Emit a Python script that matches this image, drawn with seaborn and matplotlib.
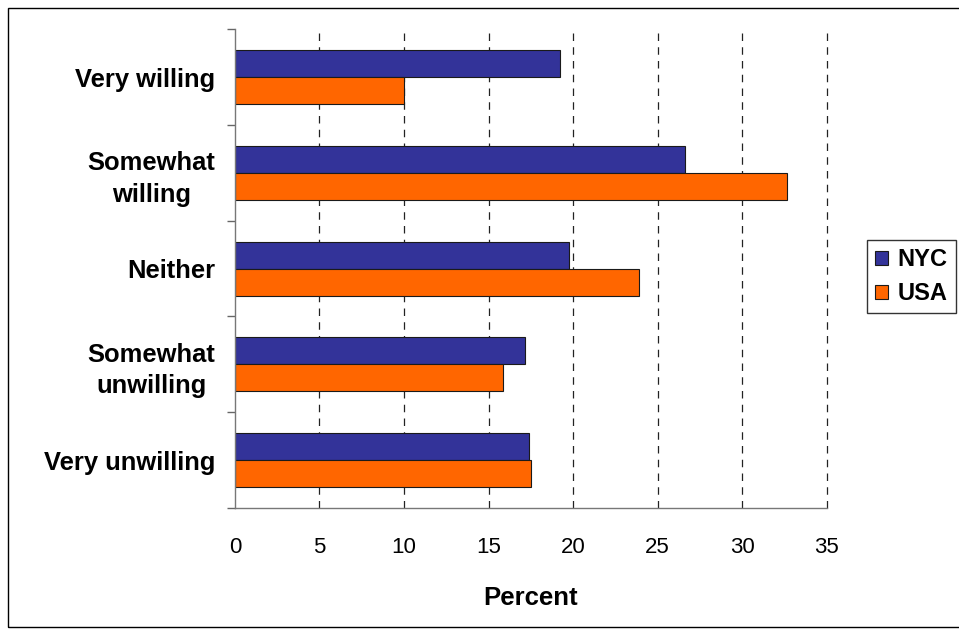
import matplotlib
matplotlib.use("Agg")
import matplotlib.pyplot as plt
import seaborn as sns
import pandas as pd
from matplotlib.patches import Rectangle
from matplotlib.ticker import FixedLocator

# 数据
categories = ['Very willing', 'Somewhat\nwilling', 'Neither',
              'Somewhat\nunwilling', 'Very unwilling']
nyc = [19.2, 26.6, 19.75, 17.15, 17.4]
usa = [10.0, 32.65, 23.9, 15.85, 17.5]
series = ['NYC', 'USA']
colors = {'NYC': '#333399', 'USA': '#FF6600'}

df = pd.DataFrame({
    'category': categories * 2,
    'value': nyc + usa,
    'group': ['NYC'] * len(categories) + ['USA'] * len(categories),
})

sns.set_style('white')
plt.rcParams['font.family'] = ['Liberation Sans', 'DejaVu Sans']
plt.rcParams['text.color'] = 'black'
plt.rcParams['axes.labelcolor'] = 'black'
plt.rcParams['xtick.color'] = '#666666'
plt.rcParams['ytick.color'] = '#666666'
plt.rcParams['xtick.labelcolor'] = 'black'
plt.rcParams['ytick.labelcolor'] = 'black'

fig = plt.figure(figsize=(9.59, 6.35), dpi=100)
ax = fig.add_axes([0.245, 0.2, 0.617, 0.754])

sns.barplot(data=df, y='category', x='value', hue='group', orient='h',
            palette=colors, hue_order=series, width=0.565, saturation=1,
            edgecolor='#1a1a1a', linewidth=0.8, ax=ax, errorbar=None)

ax.set_xlim(0, 35)
ax.set_ylim(len(categories) - 0.5, -0.5)
ax.set_xticks(range(0, 36, 5))
ax.tick_params(axis='x', labelsize=16, length=6, width=1,
               direction='out', pad=15)
for x in range(5, 36, 5):
    ax.axvline(x, color='#222222', linestyle=(0, (6, 5)), linewidth=0.9,
               zorder=0, clip_on=False)

# y 轴刻度放在类别之间
ax.yaxis.set_minor_locator(FixedLocator([i - 0.5 for i in range(len(categories) + 1)]))
ax.tick_params(axis='y', which='major', length=0, pad=14)
ax.tick_params(axis='y', which='minor', length=6, width=1,
               direction='out', left=True)
for lbl in ax.get_yticklabels():
    lbl.set_fontweight('bold')
    lbl.set_fontsize(18.4)
    lbl.set_horizontalalignment('right')
    lbl.set_multialignment('center')
    lbl.set_linespacing(1.4)

ax.set_ylabel('')
ax.set_xlabel('Percent', fontsize=18.5, fontweight='bold', labelpad=20)

for s in ['top', 'right']:
    ax.spines[s].set_visible(False)
for s in ['left', 'bottom']:
    ax.spines[s].set_color('#777777')
    ax.spines[s].set_linewidth(1)

leg = ax.legend(loc='center left', bbox_to_anchor=(1.0676, 0.483), frameon=True,
                fancybox=False, edgecolor='black', borderaxespad=0,
                prop={'weight': 'bold', 'size': 17},
                handlelength=0.55, handleheight=0.55, handletextpad=0.4,
                labelspacing=0.45, borderpad=0.35)
leg.get_frame().set_linewidth(1)
for h in leg.legend_handles:
    h.set_edgecolor('#1a1a1a')
    h.set_linewidth(0.8)

# 外框
fig.patches.append(Rectangle((8 / 959, 8 / 635), 960 / 959, 619 / 635,
                             transform=fig.transFigure, fill=False,
                             edgecolor='black', linewidth=1))

plt.savefig('out.png', dpi=100)
plt.close()
